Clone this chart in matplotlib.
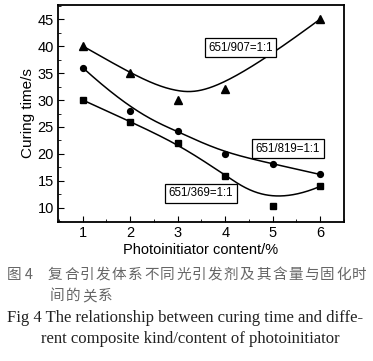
import numpy as np
import matplotlib.pyplot as plt
from matplotlib.ticker import MultipleLocator

x_907 = [1, 2, 3, 4, 6]
y_907 = [40, 35, 30, 32, 45]
x_819 = [1, 2, 3, 4, 5, 6]
y_819 = [36, 28, 24.2, 20, 18.2, 16.2]
x_369 = [1, 2, 3, 4, 5, 6]
y_369 = [30, 26, 22, 16, 10.3, 14]

cap_cn1 = "复合引发体系不同光引发剂及其含量与固化时"
cap_cn2 = "间的关系"


def bspline(px, py, k=3, num=300):
    # clamped B-spline with the data points as control points
    pts = np.column_stack([px, py]).astype(float)
    n = len(pts)
    inner = np.arange(1, n - k)
    knots = np.concatenate([np.zeros(k + 1), inner, np.full(k + 1, n - k)])
    ts = np.linspace(0, n - k, num)
    out = []
    for t in ts:
        t = min(t, n - k - 1e-9)
        # Cox-de Boor
        N = np.array([1.0 if knots[i] <= t < knots[i + 1] else 0.0
                      for i in range(len(knots) - 1)])
        for d in range(1, k + 1):
            Nn = np.zeros(len(knots) - 1 - d)
            for i in range(len(Nn)):
                a = 0.0
                if knots[i + d] != knots[i]:
                    a = (t - knots[i]) / (knots[i + d] - knots[i]) * N[i]
                b = 0.0
                if knots[i + d + 1] != knots[i + 1]:
                    b = (knots[i + d + 1] - t) / (knots[i + d + 1] - knots[i + 1]) * N[i + 1]
                Nn[i] = a + b
            N = Nn
        out.append(N @ pts)
    out = np.array(out)
    return out[:, 0], out[:, 1]


plt.rcParams["font.family"] = ["Liberation Sans", "DejaVu Sans"]
fig = plt.figure(figsize=(3.73, 3.61), dpi=100)
ax = fig.add_axes([58 / 373, 1 - 222 / 361, 286 / 373, 217 / 361])

for x, y, m, ms in [(x_907, y_907, "^", 5.5), (x_819, y_819, "o", 4.2), (x_369, y_369, "s", 4)]:
    cx, cy = bspline(x, y)
    ax.plot(cx, cy, color="black", lw=1.1)
    ax.plot(x, y, m, color="black", ms=ms, ls="none")

box = dict(boxstyle="square,pad=0.3", fc="white", ec="black", lw=0.9)
ax.text(4.32, 39.7, "651/907=1:1", fontsize=8.3, ha="center", va="center", bbox=box)
ax.text(5.32, 21.0, "651/819=1:1", fontsize=8.3, ha="center", va="center", bbox=box)
ax.text(3.49, 12.7, "651/369=1:1", fontsize=8.3, ha="center", va="center", bbox=box)

ax.set_xlim(0.48, 6.5)
ax.set_ylim(7.4, 47.6)
ax.xaxis.set_major_locator(MultipleLocator(1))
ax.xaxis.set_minor_locator(MultipleLocator(0.5))
ax.yaxis.set_major_locator(MultipleLocator(5))
ax.yaxis.set_minor_locator(MultipleLocator(2.5))
ax.tick_params(which="both", direction="in", labelsize=10.5)
ax.tick_params(which="major", length=4, pad=3)
ax.tick_params(which="minor", length=2)
for s in ax.spines.values():
    s.set_linewidth(1.3)
ax.set_xlabel("Photoinitiator content/%", fontsize=10.5, labelpad=2)
ax.set_ylabel("Curing time/s", fontsize=11, labelpad=2)

cjk = ["Noto Sans CJK SC", "DejaVu Sans"]
fig.text(7 / 373, 1 - 275 / 361, "图 4", fontsize=10.5, color="#666666",
         family=cjk, va="center")
for i, ch in enumerate(cap_cn1):
    fig.text((48 + 16 * i) / 373, 1 - 275 / 361, ch, fontsize=10.5,
             color="#666666", family=cjk, va="center")
for i, ch in enumerate(cap_cn2):
    fig.text((50 + 16 * i) / 373, 1 - 296 / 361, ch, fontsize=10.5,
             color="#666666", family=cjk, va="center")
fig.text(7 / 373, 1 - 318 / 361, "Fig 4 The relationship between curing time and diffe-",
         fontsize=12, family="Liberation Serif", color="#222222", va="center")
fig.text(41 / 373, 1 - 339 / 361, "rent composite kind/content of photoinitiator",
         fontsize=12, family="Liberation Serif", color="#222222", va="center")

fig.savefig("out.png", dpi=100)
